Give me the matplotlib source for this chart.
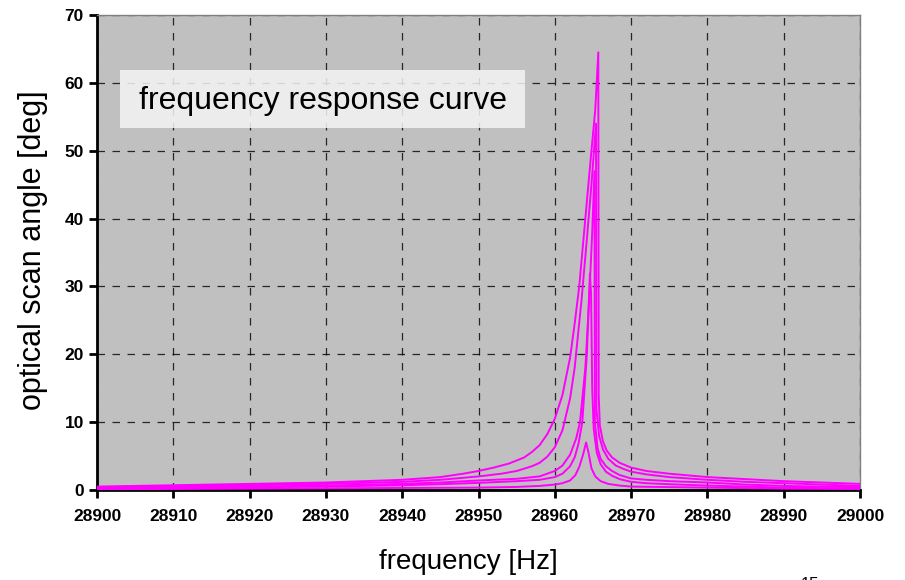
import numpy as np
import matplotlib.pyplot as plt
from matplotlib.patches import Rectangle

plt.rcParams['font.family'] = ['Liberation Sans', 'DejaVu Sans']

# frequency [Hz] / optical scan angle [deg] for each sweep
freq_a = [28900, 28910, 28920, 28930, 28940, 28945, 28948, 28950, 28952, 28954, 28956,
          28957, 28958, 28959, 28960, 28961, 28962, 28962.6, 28963.2, 28964, 28964.8,
          28965.3, 28965.7, 28965.75, 28965.9, 28966.3, 28966.8, 28967.5, 28968.5,
          28970, 28972, 28975, 28980, 28985, 28990, 29000]
ang_a = [0.5, 0.7, 0.9, 1.1, 1.5, 1.9, 2.4, 2.8, 3.3, 3.9, 4.8,
         5.6, 6.6, 8.2, 10.5, 14.0, 19.5, 24.5, 30.0, 40.0, 50.0,
         56.0, 64.5, 14.0, 9.5, 7.2, 5.8, 4.8, 4.0,
         3.3, 2.8, 2.4, 1.9, 1.6, 1.3, 0.9]

freq_b = [28900, 28910, 28920, 28930, 28940, 28945, 28950, 28953, 28955, 28957, 28958,
          28959, 28960, 28961, 28962, 28962.6, 28963.5, 28964.2, 28964.8, 28965.4,
          28965.45, 28965.8, 28966.3, 28967, 28968, 28969, 28970, 28972, 28975,
          28980, 28985, 28990, 29000]
ang_b = [0.4, 0.55, 0.7, 0.9, 1.2, 1.5, 2.0, 2.4, 2.8, 3.5, 4.0,
         4.9, 6.3, 8.8, 13.5, 18.0, 28.0, 37.0, 45.0, 54.0,
         12.0, 8.0, 6.0, 4.6, 3.6, 3.1, 2.7, 2.3, 1.9,
         1.5, 1.2, 1.0, 0.6]

freq_e = [28900, 28910, 28920, 28930, 28940, 28945, 28950, 28955, 28958, 28960, 28961,
          28962, 28962.8, 28963.3, 28964, 28964.5, 28964.9, 28965.2, 28965.25, 28965.6,
          28966, 28966.7, 28967.5, 28968.5, 28970, 28972, 28975, 28980, 28985, 28990, 29000]
ang_e = [0.3, 0.4, 0.5, 0.65, 0.9, 1.1, 1.4, 1.65, 2.0, 2.8, 3.6,
         5.2, 7.6, 10.0, 18.0, 28.0, 38.0, 47.0, 10.0, 6.2,
         4.6, 3.5, 2.8, 2.2, 1.7, 1.5, 1.3, 1.1, 0.8, 0.6, 0.4]

freq_c = [28900, 28910, 28920, 28930, 28940, 28945, 28950, 28955, 28958, 28960, 28961,
          28962, 28962.6, 28963.1, 28963.6, 28964.2, 28964.6, 28964.75, 28964.9, 28965.1,
          28965.5, 28966, 28966.7, 28967.5, 28968.5, 28970, 28972, 28975, 28980, 28990, 29000]
ang_c = [0.2, 0.3, 0.4, 0.5, 0.7, 0.85, 1.05, 1.3, 1.5, 1.9, 2.4,
         3.5, 4.8, 6.8, 10.0, 20.0, 31.9, 29.0, 15.0, 9.0,
         5.5, 3.8, 2.7, 2.1, 1.6, 1.2, 1.0, 0.85, 0.65, 0.35, 0.2]

freq_d = [28900, 28920, 28940, 28950, 28955, 28958, 28960, 28961, 28962, 28962.7, 28963.2,
          28963.7, 28964.1, 28964.4, 28964.8, 28965.3, 28966, 28967, 28968.5, 28970,
          28980, 28990, 29000]
ang_d = [0.1, 0.2, 0.3, 0.35, 0.45, 0.6, 0.8, 1.0, 1.4, 2.2, 3.4,
         5.2, 7.0, 5.6, 3.2, 2.0, 1.3, 0.9, 0.65, 0.5,
         0.35, 0.2, 0.15]

curves = [(freq_a, ang_a), (freq_b, ang_b), (freq_e, ang_e), (freq_c, ang_c), (freq_d, ang_d)]

fig = plt.figure(figsize=(9.05, 5.8), dpi=100)
ax = fig.add_axes([0.1072, 0.1552, 0.8431, 0.8189])
ax.set_facecolor('#C0C0C0')

for f, a in curves:
    ax.plot(f, a, color='#FF00FF', lw=1.4, zorder=3)

ax.set_xlim(28900, 29000)
ax.set_ylim(0, 70)
ax.set_xticks(np.arange(28900, 29001, 10))
ax.set_yticks(np.arange(0, 71, 10))
ax.grid(True, color='black', linestyle=(0, (6, 6)), lw=0.9, alpha=0.8)
ax.set_axisbelow(True)

for s in ['top', 'right']:
    ax.spines[s].set_color('#808080')
    ax.spines[s].set_linewidth(1.0)
for s in ['left', 'bottom']:
    ax.spines[s].set_color('black')
    ax.spines[s].set_linewidth(2.0)

ax.tick_params(direction='out', length=6, width=2, colors='black', labelsize=12.5)
for lbl in ax.get_xticklabels() + ax.get_yticklabels():
    lbl.set_fontweight('bold')
ax.tick_params(axis='x', pad=8)

fig.text(0.517, 0.031, 'frequency [Hz]', fontsize=20, ha='center', va='center')
fig.text(0.0365, 0.569, 'optical scan angle [deg]', fontsize=22, rotation=90,
         ha='center', va='center')

# label box
ax.add_patch(Rectangle((28903.0, 53.3), 53.1, 8.6, facecolor='#F4F4F4', edgecolor='none',
                       alpha=0.85, zorder=4))
ax.text(28929.6, 57.4, 'frequency response curve', fontsize=23, ha='center', va='center',
        zorder=5)

fig.text(0.885, 0.005, '15', fontsize=12, ha='left', va='top')

fig.savefig('out.png', dpi=100)
